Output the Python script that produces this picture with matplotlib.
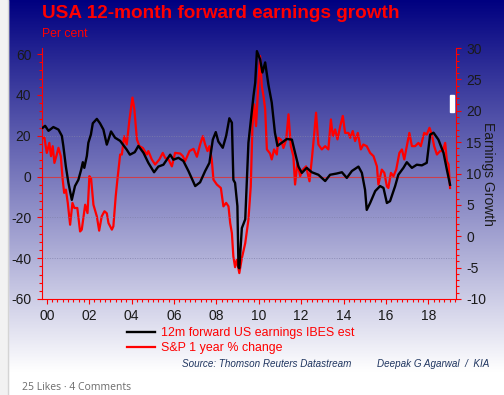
import matplotlib
matplotlib.use('Agg')
import matplotlib.pyplot as plt
from matplotlib.ticker import MultipleLocator, FixedLocator
from matplotlib.patches import Rectangle
import numpy as np

plt.rcParams['font.family'] = ['Liberation Sans', 'DejaVu Sans']
plt.rcParams['axes.unicode_minus'] = False

# S&P 500, 1 year % change (left axis, per cent)
sp_years = [1999.81, 1999.89, 2000.0, 2000.12, 2000.2, 2000.28, 2000.36, 2000.47, 2000.55, 2000.66,
            2000.75, 2000.82, 2000.9, 2000.99, 2001.1, 2001.21, 2001.3, 2001.44, 2001.57, 2001.65,
            2001.81, 2001.92, 2002.01, 2002.09, 2002.2, 2002.36, 2002.47, 2002.59, 2002.72, 2002.83,
            2002.91, 2003.07, 2003.14, 2003.25, 2003.33, 2003.46, 2003.54, 2003.65, 2003.77, 2003.9,
            2004.04, 2004.13, 2004.25, 2004.37, 2004.53, 2004.72, 2004.79, 2004.95, 2005.11, 2005.31,
            2005.47, 2005.58, 2005.74, 2005.9, 2006.05, 2006.29, 2006.42, 2006.52, 2006.73, 2006.92,
            2007.08, 2007.23, 2007.36, 2007.47, 2007.58, 2007.67, 2007.78, 2007.86, 2008.02, 2008.21,
            2008.33, 2008.46, 2008.57, 2008.65, 2008.73, 2008.8, 2008.88, 2008.96, 2009.08, 2009.2,
            2009.36, 2009.51, 2009.62, 2009.7, 2009.78, 2009.87, 2009.98, 2010.06, 2010.14, 2010.22,
            2010.3, 2010.38, 2010.53, 2010.61, 2010.72, 2010.85, 2010.92, 2011.05, 2011.16, 2011.29,
            2011.4, 2011.51, 2011.63, 2011.71, 2011.82, 2011.95, 2012.08, 2012.23, 2012.39, 2012.5,
            2012.61, 2012.7, 2012.81, 2012.97, 2013.13, 2013.28, 2013.4, 2013.49, 2013.6, 2013.71,
            2013.84, 2013.96, 2014.07, 2014.23, 2014.31, 2014.43, 2014.54, 2014.67, 2014.81, 2014.93,
            2015.09, 2015.25, 2015.41, 2015.57, 2015.64, 2015.8, 2015.92, 2016.04, 2016.11, 2016.23,
            2016.35, 2016.48, 2016.63, 2016.75, 2016.86, 2016.98, 2017.1, 2017.22, 2017.37, 2017.53,
            2017.64, 2017.8, 2017.92, 2018.05, 2018.16, 2018.27, 2018.4, 2018.55, 2018.68, 2018.79,
            2018.87, 2018.95, 2019.02]
sp_change = [19, 19, 11.6, 16.5, 10, 14.9, 6.7, 10.8, 14.1, 10,
             -1.5, -8, -6.4, -12.9, -23.6, -12.9, -15.4, -15.4, -26.9, -26,
             -13.8, -17.9, 0.2, -1, -13.8, -19.5, -26.5, -19.5, -17, -18,
             -22.8, -26, -24.4, -9.7, -1.5, 10.8, 10.8, 19.8, 15.7, 28,
             38.7, 33, 18.2, 14.9, 14, 10.8, 12.5, 8.4, 5.9, 8.4,
             11.6, 9.2, 8.4, 5, 11.6, 11.3, 10, 7.5, 12.5, 13.6,
             9.7, 15.7, 19.8, 15.7, 12.5, 14.9, 8.4, -1.5, -3.9, -5.6,
             -14.6, -12.9, -14.6, -22.8, -27.7, -39.2, -44.4, -40.8, -47.3, -40,
             -32.6, -21.1, -4.8, 24.7, 35.4, 24.7, 46, 59, 44.4, 39.5,
             33, 13.3, 11.3, 8.4, 13.3, 10.8, 19, 18, 14, 18,
             30.5, 14.9, 10, -3.9, 6.7, 0.2, 3.4, 5, -2.3, 8.4,
             20.6, 31.3, 15.7, 13.3, 14.9, 13.3, 28, 19.8, 23.1, 18.2,
             24.7, 29.7, 21.4, 21.4, 19, 22.3, 17.4, 21.4, 13.3, 15.7,
             14.9, 11.6, 10, 5, -3.9, 3.4, 1.8, -4.8, -5.6, 1.8,
             0.2, 3.4, 11.6, 13.3, 8.4, 14.9, 21.4, 14.9, 14.9, 16.5,
             14.9, 21.4, 20.6, 23.9, 20.6, 14.9, 10.8, 12.5, 12.5, 16.5,
             7.5, 5.9, -5.6]

# 12m forward US earnings growth, IBES est (right axis)
eg_years = [1999.81, 1999.92, 2000.08, 2000.31, 2000.55, 2000.71, 2000.78, 2000.9, 2001.02, 2001.18,
            2001.33, 2001.49, 2001.62, 2001.7, 2001.77, 2001.89, 2001.96, 2002.08, 2002.17, 2002.36,
            2002.51, 2002.67, 2002.83, 2002.91, 2003.03, 2003.22, 2003.46, 2003.77, 2003.92, 2004.15,
            2004.32, 2004.56, 2004.79, 2005.06, 2005.26, 2005.5, 2005.82, 2005.97, 2006.21, 2006.44,
            2006.68, 2007.0, 2007.23, 2007.47, 2007.67, 2007.83, 2007.97, 2008.09, 2008.3, 2008.46,
            2008.61, 2008.73, 2008.8, 2008.88, 2008.99, 2009.04, 2009.08, 2009.2, 2009.36, 2009.51,
            2009.75, 2009.83, 2009.91, 2010.06, 2010.17, 2010.3, 2010.45, 2010.61, 2010.76, 2010.88,
            2011.08, 2011.32, 2011.56, 2011.71, 2011.87, 2012.03, 2012.26, 2012.5, 2012.81, 2013.13,
            2013.36, 2013.68, 2013.92, 2014.15, 2014.39, 2014.7, 2014.86, 2015.01, 2015.09, 2015.25,
            2015.49, 2015.72, 2015.88, 2016.04, 2016.19, 2016.43, 2016.58, 2016.82, 2016.98, 2017.22,
            2017.45, 2017.69, 2017.92, 2018.08, 2018.24, 2018.47, 2018.71, 2018.87, 2019.02]
eg_growth = [17.3, 17.6, 16.8, 17.4, 17.0, 16.0, 14.4, 11.1, 8.5, 5.8,
             8.0, 9.0, 10.6, 11.8, 10.9, 12.8, 14.9, 16.2, 18.0, 18.7,
             18.0, 17.0, 14.6, 15.4, 16.7, 15.7, 15.2, 13.8, 13.0, 13.4,
             14.4, 13.3, 11.7, 10.2, 11.1, 11.4, 13.0, 12.2, 12.5, 12.0,
             10.4, 8.0, 8.6, 10.4, 11.7, 15.4, 16.6, 15.1, 14.1, 16.0,
             18.8, 18.1, 9.0, 8.5, 4.8, -4.9, -5.1, 1.3, 2.7, 14.9,
             22.4, 24.5, 29.5, 28.2, 26.1, 27.7, 24.2, 21.3, 16.5, 14.4,
             14.9, 15.5, 15.4, 13.3, 11.1, 10.1, 10.9, 10.2, 9.8, 8.8,
             9.8, 10.0, 10.2, 9.3, 10.4, 11.1, 10.1, 7.4, 4.2, 5.3,
             7.2, 8.0, 7.7, 5.3, 5.6, 8.0, 9.8, 10.9, 11.8, 10.9,
             11.4, 11.3, 11.7, 16.2, 16.5, 15.4, 13.3, 10.6, 8.2]

year_ticks = [2000, 2002, 2004, 2006, 2008, 2010, 2012, 2014, 2016, 2018]
year_labels = ['00', '02', '04', '06', '08', '10', '12', '14', '16', '18']

W, H = 504, 395
fig = plt.figure(figsize=(W / 100, H / 100), dpi=100)

# background: light strip on the left, navy-to-white gradient behind the chart
bg = fig.add_axes([0, 0, 1, 1], zorder=0)
bg.set_xlim(0, W)
bg.set_ylim(H, 0)
bg.axis('off')
t = np.clip(np.linspace(0, H, 400) / 372.0, 0, 1)[:, None]
top = np.array([0, 0, 128]) / 255
grad = (top + (1 - top) * t)[:, None, :]
bg.imshow(grad, extent=(8, W, H, 0), aspect='auto', zorder=0)
bg.add_patch(Rectangle((0, 0), 7.5, H, color='#f2f2f2', zorder=1))
bg.plot([7.5, 7.5], [0, H], color='#d4d4d4', lw=1, zorder=2)
bg.add_patch(Rectangle((450, 95), 4, 17, color='white', zorder=2))

ax = fig.add_axes([41.7 / W, 1 - 299 / H, (456 - 41.7) / W, (299 - 48) / H], zorder=1)
ax.patch.set_alpha(0)
ax2 = ax.twinx()

red = '#ff0000'
ax.plot(sp_years, sp_change, color=red, lw=1.6, label='S&P 1 year % change')
ax2.plot(eg_years, eg_growth, color='black', lw=1.7, label='12m forward US earnings IBES est')

ax.set_xlim(1999.76, 2019.3)
ax.set_ylim(-60, 63)
ax2.set_ylim(-10, 30)

ax.axhline(0, color='#e03030', lw=0.8, alpha=0.8)
for g in [20, -20, -40]:
    ax.axhline(g, color='#8080aa', lw=0.5, ls=(0, (1.5, 2)))

ax.xaxis.set_major_locator(FixedLocator(year_ticks))
ax.set_xticklabels(year_labels)
ax.xaxis.set_minor_locator(MultipleLocator(0.25))
ax.yaxis.set_major_locator(MultipleLocator(20))
ax.yaxis.set_minor_locator(MultipleLocator(4))
ax2.yaxis.set_major_locator(MultipleLocator(5))
ax2.yaxis.set_minor_locator(MultipleLocator(1))

for a in (ax, ax2):
    for s in a.spines.values():
        s.set_visible(False)
    a.tick_params(which='both', color=red, labelcolor='#1a1a1a', labelsize=10, width=0.8)
    a.tick_params(which='major', length=3.5, pad=4)
    a.tick_params(which='minor', length=2.5)
ax.spines['left'].set_visible(True)
ax.spines['bottom'].set_visible(True)
ax2.spines['right'].set_visible(True)
ax.spines['left'].set_color(red)
ax.spines['bottom'].set_color(red)
ax2.spines['right'].set_color(red)

ax2.set_ylabel('Earnings Growth', rotation=270, labelpad=6, fontsize=10, color='#1a1a1a')

fig.text(42 / W, 1 - 13 / H, 'USA 12-month forward earnings growth', color=red,
         fontsize=13.7, fontweight='bold', va='center')
fig.text(42 / W, 1 - 34 / H, 'Per cent', color=red, fontsize=8.8, va='center')

h1, l1 = ax2.get_legend_handles_labels()
h2, l2 = ax.get_legend_handles_labels()
fig.legend(h1 + h2, l1 + l2, loc='upper left', bbox_to_anchor=(127 / W, 1 - 327 / H),
           frameon=False, fontsize=8.9, labelcolor=red, handlelength=2.3,
           handletextpad=0.45, labelspacing=0.25, borderpad=0, borderaxespad=0)

fig.text(182 / W, 1 - 364 / H, 'Source: Thomson Reuters Datastream', color='#1f3560',
         fontsize=7.1, style='italic', va='center')
fig.text(377 / W, 1 - 364 / H, 'Deepak G Agarwal  /  KIA', color='#1f3560',
         fontsize=7.1, style='italic', va='center')
fig.text(22 / W, 1 - 388 / H, '25 Likes \u00b7 4 Comments', color='#6b6b6b',
         fontsize=7.5, va='center', family=['Open Sans', 'DejaVu Sans'])

fig.savefig('out.png', dpi=100)
